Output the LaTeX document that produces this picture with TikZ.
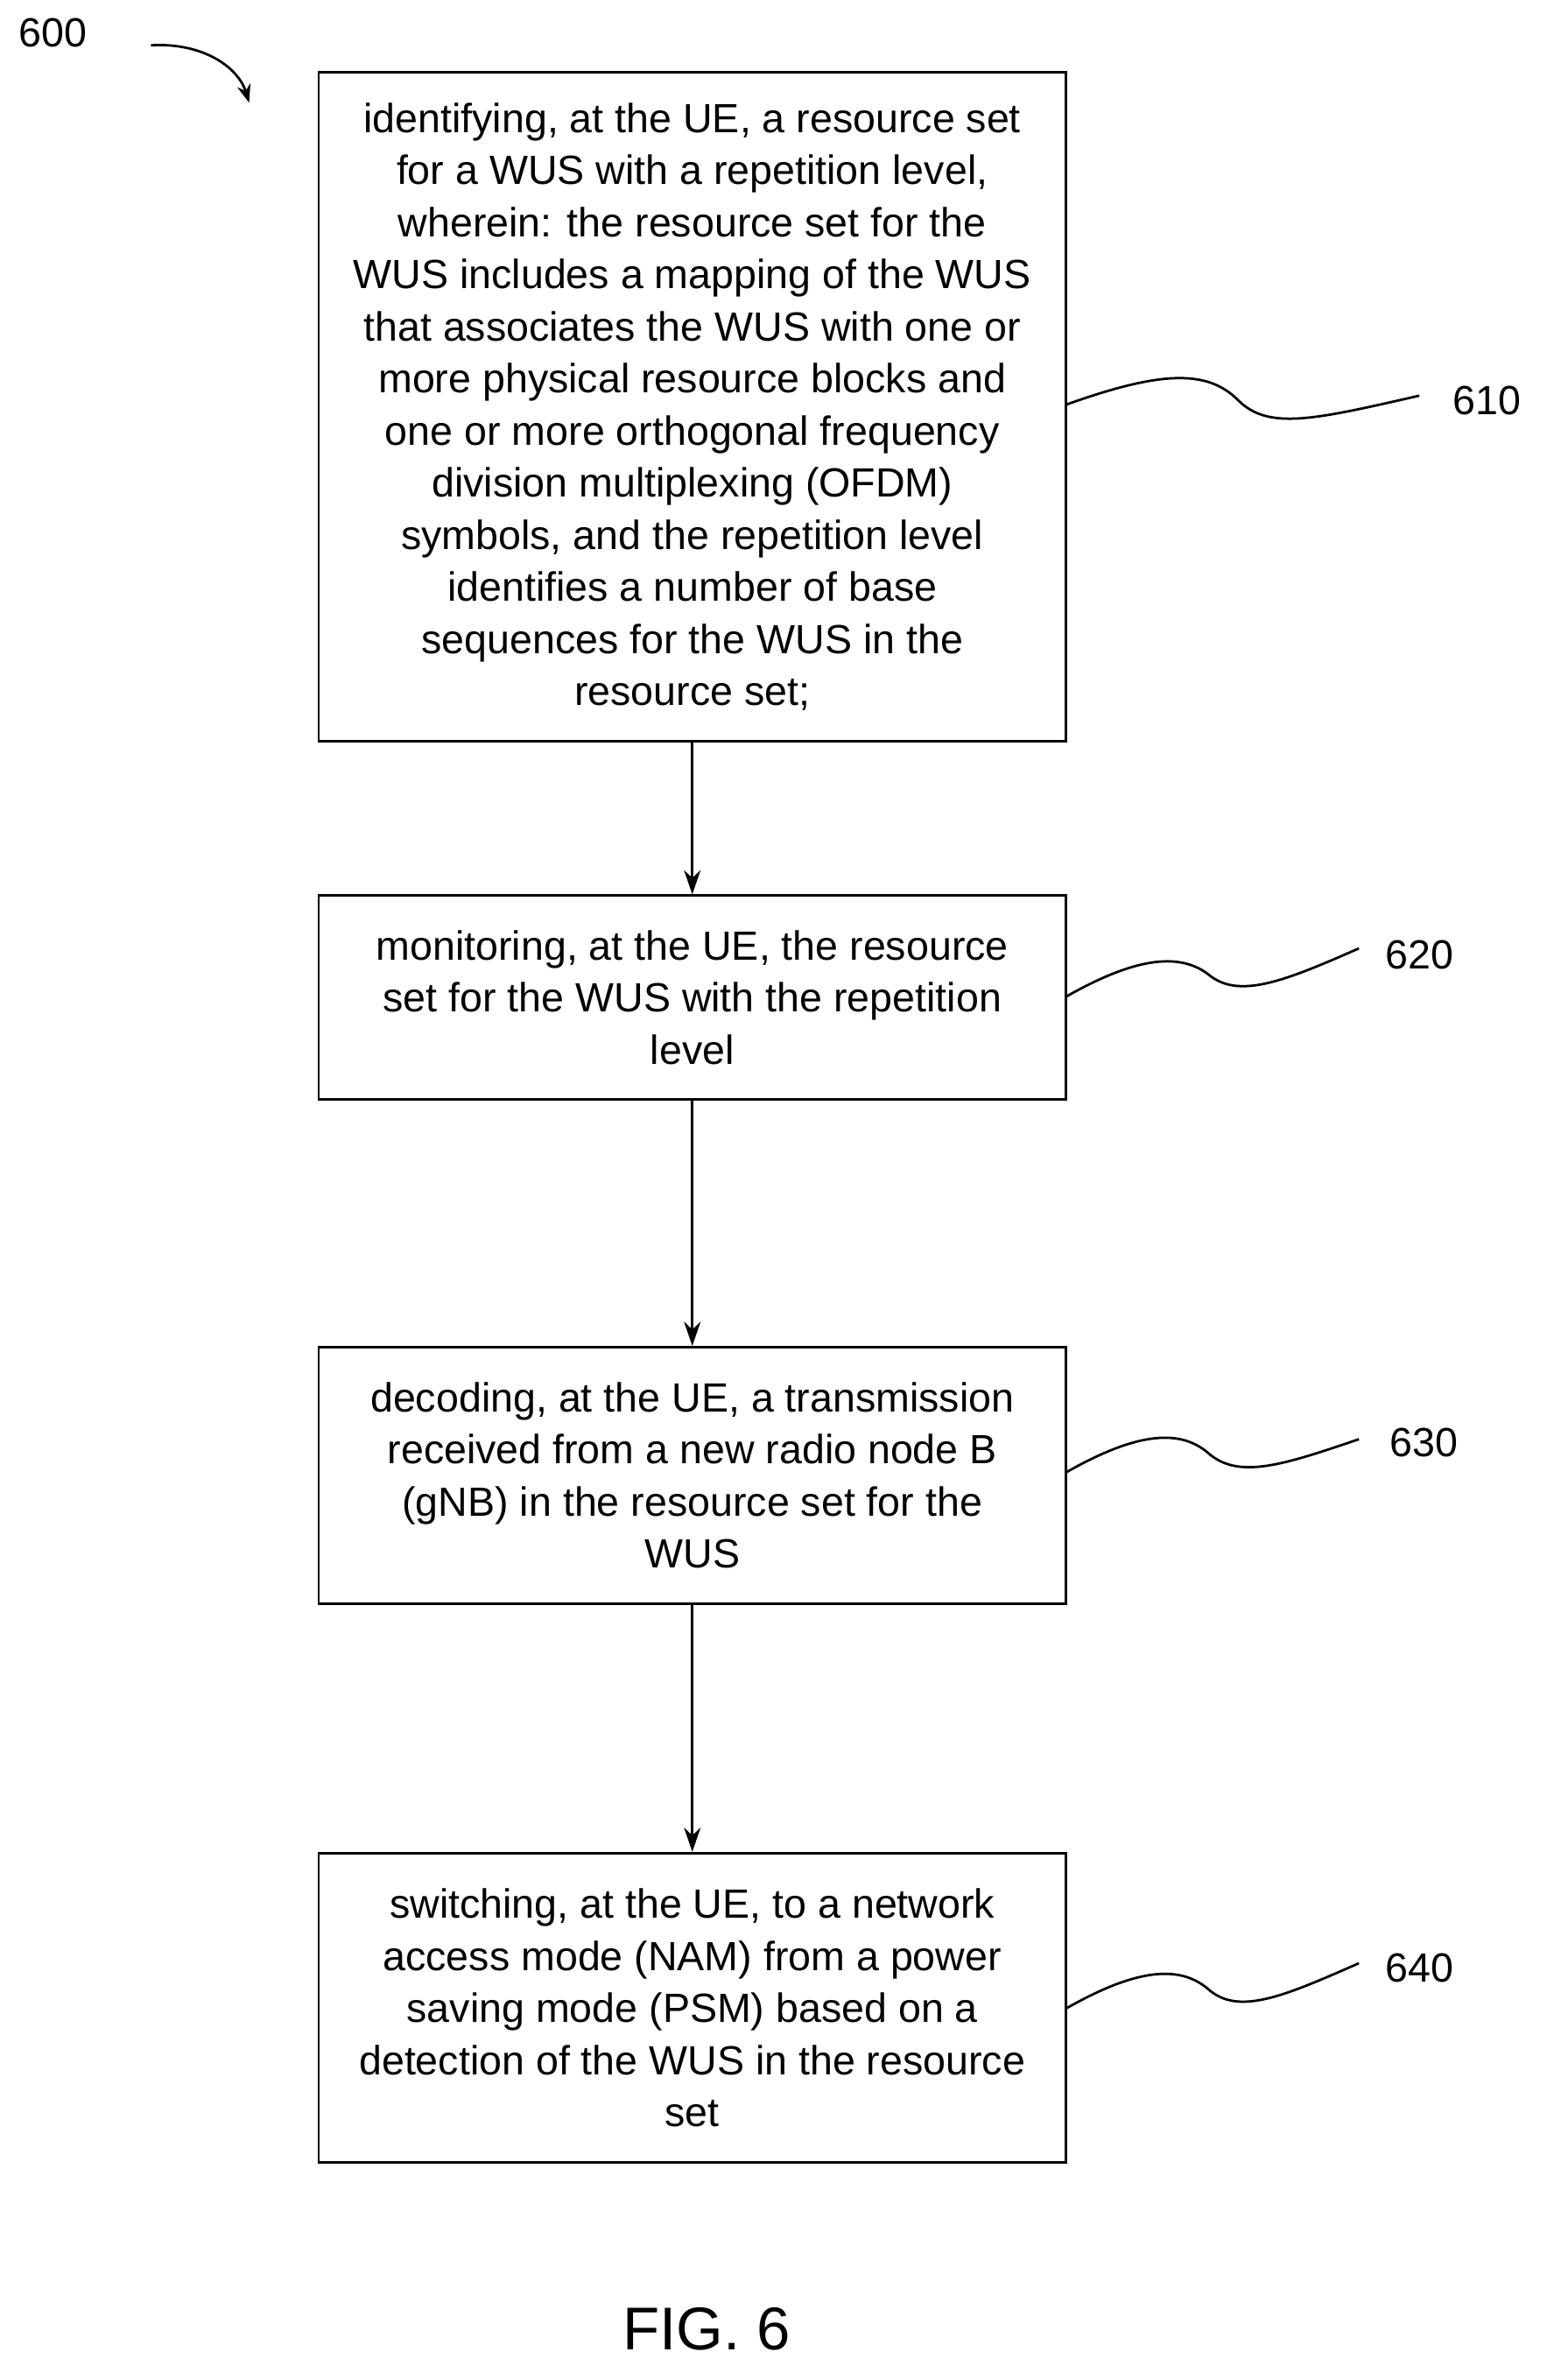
\documentclass[tikz,border=0pt]{standalone}
\usepackage{fontspec}
\setmainfont{Liberation Sans}
\usetikzlibrary{arrows.meta}
\begin{document}
\begin{tikzpicture}[x=1pt,y=-1pt,
 box/.style={draw,line width=1.6pt,align=center,font=\fontsize{27}{34.5}\selectfont,inner sep=0pt},
 lbl/.style={font=\fontsize{27}{32}\selectfont},
 arr/.style={line width=1.6pt,-{Stealth[length=16pt,width=11pt]}},
 sq/.style={line width=1.6pt}]
\useasboundingbox (0,0) rectangle (1024,1576);
\node[box,minimum width=495pt,minimum height=443pt] (b1) at (458.5,269.5) {identifying, at the UE, a resource set\\for a WUS with a repetition level,\\wherein: the resource set for the\\WUS includes a mapping of the WUS\\that associates the WUS with one or\\more physical resource blocks and\\one or more orthogonal frequency\\division multiplexing (OFDM)\\symbols, and the repetition level\\identifies a number of base\\sequences for the WUS in the\\resource set;};
\node[box,minimum width=495pt,minimum height=135pt] (b2) at (458.5,660.5) {monitoring, at the UE, the resource\\set for the WUS with the repetition\\level};
\node[box,minimum width=495pt,minimum height=170pt] (b3) at (458.5,977) {decoding, at the UE, a transmission\\received from a new radio node B\\(gNB) in the resource set for the\\WUS};
\node[box,minimum width=495pt,minimum height=205pt] (b4) at (458.5,1329.5) {switching, at the UE, to a network\\access mode (NAM) from a power\\saving mode (PSM) based on a\\detection of the WUS in the resource\\set};
\draw[arr] (b1.south) -- (b2.north);
\draw[arr] (b2.south) -- (b3.north);
\draw[arr] (b3.south) -- (b4.north);
\node[lbl] (l600) at (35,22) {600};
\coordinate (a0) at (100,30);
\coordinate (a1) at (165,68);
\draw[line width=1.6pt,-{Stealth[length=12pt,width=9pt]}] (a0) .. controls (135,28) and (158,45) .. (a1);
\node[lbl] (l610) at (985,265) {610};
\node[lbl] (l620) at (940,632) {620};
\node[lbl] (l630) at (943,955) {630};
\node[lbl] (l640) at (940,1303) {640};
\coordinate (s1) at (706,268); \coordinate (e1) at (940,262);
\coordinate (s2) at (706,660); \coordinate (e2) at (900,628);
\coordinate (s3) at (706,975); \coordinate (e3) at (900,953);
\coordinate (s4) at (706,1330); \coordinate (e4) at (900,1300);
\draw[sq] (s1) .. controls (770,245) and (800,245) .. (820,265) .. controls (840,285) and (870,278) .. (e1);
\draw[sq] (s2) .. controls (750,635) and (780,630) .. (800,645) .. controls (820,662) and (850,650) .. (e2);
\draw[sq] (s3) .. controls (750,950) and (780,945) .. (800,962) .. controls (820,980) and (850,970) .. (e3);
\draw[sq] (s4) .. controls (750,1305) and (780,1300) .. (800,1317) .. controls (820,1335) and (850,1322) .. (e4);
\node[font=\fontsize{40}{46}\selectfont] (fig) at (468,1542) {FIG. 6};
\end{tikzpicture}
\end{document}
